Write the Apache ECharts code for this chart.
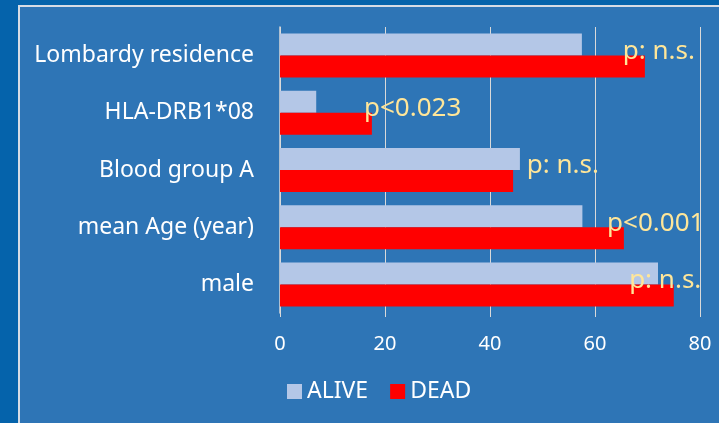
<!DOCTYPE html>
<html>
<head>
<meta charset="utf-8">
<script src="https://cdn.jsdelivr.net/npm/echarts@6/dist/echarts.min.js"></script>
<style>
  html, body { margin: 0; padding: 0; background: #0563ab; }
  #chart { width: 719px; height: 423px; }
</style>
</head>
<body>
<div id="chart"></div>
<script>
const categories = ['Lombardy residence', 'HLA-DRB1*08', 'Blood group A', 'mean Age (year)', 'male']
const alive = [57.5, 6.9, 45.7, 57.6, 72]
const dead = [69.5, 17.5, 44.4, 65.5, 75]
const pLabels = ['p: n.s.', 'p<0.023', 'p: n.s.', 'p<0.001', 'p: n.s.']
// x value where each p label starts
const pLabelAt = [65.3, 16, 47, 62.3, 66.5]
const xTicks = [0, 20, 40, 60, 80]

const FONT = 'Noto Sans'
const chart = echarts.init(document.getElementById('chart'))

chart.setOption({
  backgroundColor: '#0563ab',
  animation: false,
  graphic: [{
    type: 'rect',
    z: -10,
    shape: { x: 19, y: 6, width: 740, height: 440 },
    style: { fill: '#2e75b6', stroke: '#d6dce5', lineWidth: 2 }
  }],
  grid: { left: 280, right: 19, top: 27, bottom: 110 },
  legend: {
    left: 287,
    top: 380,
    padding: 0,
    itemWidth: 15,
    itemHeight: 15,
    itemGap: 22,
    icon: 'rect',
    textStyle: { color: '#ffffff', fontFamily: FONT, fontSize: 23 },
    data: ['ALIVE', 'DEAD']
  },
  xAxis: {
    type: 'value',
    min: xTicks[0],
    max: xTicks[xTicks.length - 1],
    interval: 20,
    axisLine: { show: false },
    axisTick: { show: true, length: 4, lineStyle: { color: '#d9d9d9' } },
    axisLabel: { color: '#ffffff', fontFamily: FONT, fontSize: 20, margin: 21 },
    splitLine: { show: true, lineStyle: { color: '#d9d9d9', width: 1 } }
  },
  yAxis: {
    type: 'category',
    inverse: true,
    data: categories,
    axisLine: { show: true, lineStyle: { color: '#d9d9d9', width: 1.5 } },
    axisTick: { show: false },
    axisLabel: { color: '#ffffff', fontFamily: FONT, fontSize: 23, margin: 26 }
  },
  series: [
    {
      name: 'ALIVE',
      type: 'bar',
      data: alive,
      barWidth: 22,
      barGap: '0%',
      itemStyle: { color: '#b4c7e7' }
    },
    {
      name: 'DEAD',
      type: 'bar',
      data: dead,
      barWidth: 22,
      barGap: '0%',
      itemStyle: { color: '#ff0000' },
      markPoint: {
        symbol: 'circle',
        symbolSize: 0,
        silent: true,
        label: {
          show: true,
          position: 'right',
          distance: 0,
          offset: [0, -15],
          color: '#ffe699',
          fontFamily: FONT,
          fontSize: 26,
          formatter: p => p.name
        },
        data: categories.map((c, i) => ({ name: pLabels[i], coord: [pLabelAt[i], c] }))
      }
    }
  ]
})
</script>
</body>
</html>
